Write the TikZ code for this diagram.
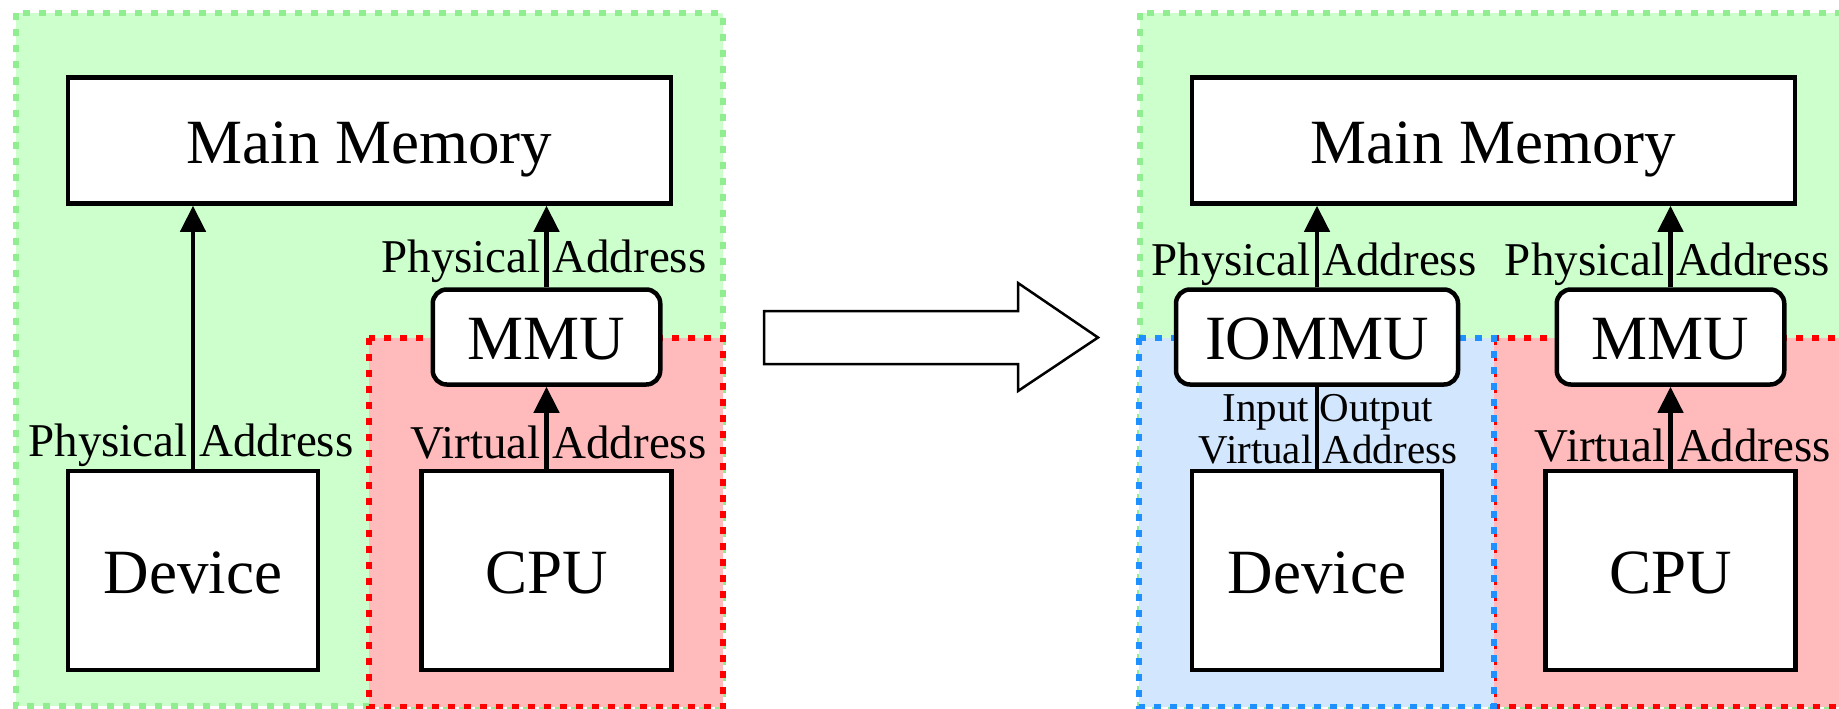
\documentclass[tikz,border=0pt]{standalone}
\usepackage{fontspec}
\setmainfont{Liberation Serif}
\usetikzlibrary{arrows.meta}

\definecolor{hostfill}{HTML}{CCFFCC}
\definecolor{hostline}{HTML}{90EE90}
\definecolor{cpufill}{HTML}{FFBBBB}
\definecolor{cpuline}{HTML}{FF0000}
\definecolor{devfill}{HTML}{D2E6FE}
\definecolor{devline}{HTML}{1E90FF}

\tikzset{
  zone/.style={line width=6pt, dash pattern=on 7pt off 9pt},
  hostzone/.style={zone, draw=hostline, fill=hostfill},
  cpuzone/.style={zone, draw=cpuline, fill=cpufill},
  devzone/.style={zone, draw=devline, fill=devfill},
  box/.style={draw=black, line width=4.5pt, fill=white, inner sep=0pt,
    font=\fontsize{63}{63}\selectfont, text height=45.6pt, text depth=0pt},
  unitbox/.style={box, rounded corners=14pt, minimum height=95pt},
  membox/.style={box, minimum width=603pt, minimum height=126pt},
  endbox/.style={box, minimum width=250pt, minimum height=199pt},
  lbl/.style={font=\fontsize{47}{47}\selectfont, inner sep=0pt, anchor=base},
  conn/.style={line width=4.5pt, -{Triangle[length=26pt,width=25pt]}},
  plainconn/.style={line width=4.5pt},
}

\begin{document}
\begin{tikzpicture}[x=1pt,y=-1pt]
  \useasboundingbox (0,0) rectangle (1839,709);
  \fill[white] (0,0) rectangle (1839,709);
  \clip (0,0) rectangle (1839,709);

  % ---------- without IOMMU ----------
  \draw[hostzone] (15.7,13.5) rectangle (722.5,706);
  \draw[cpuzone] (369,337.5) rectangle (723,706.5);

  \node[membox] (memA) at (369.5,140.5) {Main Memory};
  \node[endbox] (devA) at (193,570.5) {Device};
  \node[endbox] (cpuA) at (546.5,570.5) {CPU};
  \node[unitbox, minimum width=227.5pt] (mmuA) at (546.5,337) {MMU};

  \draw[conn] (devA.north) -- (devA.north |- memA.south);
  \draw[conn] (mmuA.north) -- (mmuA.north |- memA.south);
  \draw[conn] (cpuA.north) -- (cpuA.north |- mmuA.south);

  \node[lbl] (paDevA) at (191,456) {Physical Address};
  \node[lbl] (paMmuA) at (544,272) {Physical Address};
  \node[lbl] (vaCpuA) at (558.5,458) {Virtual Address};

  % ---------- transition arrow ----------
  \draw[line width=2.5pt, fill=white, line join=miter]
    (764,311) -- (1018,311) -- (1018,283) -- (1098,337.5)
    -- (1018,391) -- (1018,364) -- (764,364) -- cycle;

  % ---------- with IOMMU ----------
  \draw[hostzone] (1140,13.5) rectangle (1846.5,706);
  \draw[cpuzone] (1493.5,337.5) rectangle (1847,706.5);
  \draw[devzone] (1139,337.5) rectangle (1493.5,706.5);

  \node[membox] (memB) at (1493.5,140.5) {Main Memory};
  \node[endbox] (devB) at (1317,570.5) {Device};
  \node[endbox] (cpuB) at (1670.5,570.5) {CPU};
  \node[unitbox, minimum width=282pt] (iommu) at (1317,337) {IOMMU};
  \node[unitbox, minimum width=227.5pt] (mmuB) at (1670.5,337) {MMU};

  \draw[plainconn] (devB.north) -- (devB.north |- iommu.south);
  \draw[conn] (iommu.north) -- (iommu.north |- memB.south);
  \draw[conn] (mmuB.north) -- (mmuB.north |- memB.south);
  \draw[conn] (cpuB.north) -- (cpuB.north |- mmuB.south);

  \node[lbl] (paIo) at (1314,275) {Physical Address};
  \node[lbl, font=\fontsize{41}{41.3}\selectfont, align=center] (ioAddr) at (1328,463)
    {Input Output\\Virtual Address};
  \node[lbl] (paMmuB) at (1667.5,275) {Physical Address};
  \node[lbl] (vaCpuB) at (1683,461) {Virtual Address};
\end{tikzpicture}
\end{document}
